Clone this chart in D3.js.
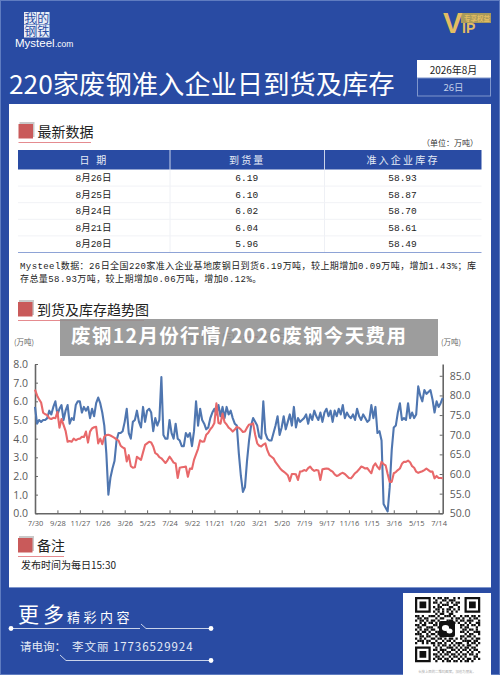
<!DOCTYPE html>
<html>
<head>
<meta charset="utf-8">
<script src="https://cdn.jsdelivr.net/npm/d3@7"></script>
<style>
  html, body { margin: 0; padding: 0; background: #294ba3; }
  svg { display: block; }
  text { font-family: "Noto Sans CJK SC", "Noto Sans", sans-serif; }
</style>
</head>
<body>
<svg id="chart"></svg>
<script>
// table data
const tableHeaders = ["日 期", "到货量", "准入企业库存"];
const tableDates = ["8月26日", "8月25日", "8月24日", "8月21日", "8月20日"];
const tableArrivals = ["6.19", "6.10", "6.02", "6.04", "5.96"];
const tableStocks = ["58.93", "58.87", "58.70", "58.61", "58.49"];

// chart data
const tickLabels = ["7/30", "9/28", "11/27", "1/26", "3/26", "5/25", "7/24", "9/22", "11/21", "1/20",
  "3/21", "5/20", "7/19", "9/17", "11/16", "1/15", "3/16", "5/15", "7/14"];
const leftTicks = [0, 1, 2, 3, 4, 5, 6, 7, 8];
const rightTicks = [50, 55, 60, 65, 70, 75, 80, 85];

const arrivals = [
  5.7, 4.8, 5.0, 4.9, 5.0, 5.0, 5.1, 5.5, 5.3, 5.7, 6.0,
  5.3, 5.6, 5.8, 5.0, 5.5, 5.8, 4.8, 5.1, 5.0, 5.8, 6.0,
  6.0, 5.4, 5.7, 5.5, 5.7, 5.1, 5.6, 5.2, 5.9, 6.2, 5.9,
  5.4, 4.7, 3.2, 1.0, 1.9, 2.4, 2.8, 3.9, 4.3, 4.3, 4.4,
  4.9, 5.6, 4.3, 4.0, 4.9, 5.0, 5.5, 4.9, 4.6, 5.7, 4.9,
  5.5, 5.6, 5.4, 4.4, 5.1, 4.7, 5.0, 7.3, 4.2, 4.0, 4.0,
  5.0, 4.3, 4.0, 4.8, 4.0, 3.9, 3.6, 3.6, 4.3, 4.1, 4.3,
  3.6, 4.4, 6.0, 4.7, 5.6, 5.0, 4.8, 4.5, 4.6, 5.1, 5.4,
  5.6, 5.3, 5.8, 5.2, 5.7, 5.1, 5.7, 5.3, 5.5, 5.1, 4.8,
  4.7, 3.2, 2.0, 1.15, 1.4, 2.8, 3.9, 4.7, 5.1, 4.9, 4.7,
  4.1, 4.0, 6.0, 4.3, 4.0, 3.9, 3.9, 4.3, 4.7, 5.2, 4.2,
  4.6, 5.2, 4.5, 4.9, 5.3, 4.7, 5.7, 4.6, 5.1, 4.9, 5.0,
  5.1, 5.3, 4.8, 5.3, 5.0, 5.5, 5.2, 5.0, 5.4, 4.9, 5.4,
  5.6, 5.2, 5.5, 4.9, 5.5, 5.2, 5.6, 5.3, 5.8, 5.1, 5.4,
  5.2, 5.1, 5.3, 5.0, 5.6, 5.2, 5.0, 5.3, 5.1, 4.9, 5.0,
  5.8, 5.1, 5.7, 4.3, 4.4, 3.9, 0.5, 0.3, 0.1, 1.4, 3.4,
  4.6, 4.7, 5.4, 5.9, 5.0, 5.1, 5.0, 5.9, 5.1, 5.4, 5.1,
  5.3, 6.8, 6.3, 6.0, 6.6, 6.4, 6.5, 6.6, 6.1, 5.4, 6.0,
  5.7, 5.9, 6.19
];

const stocks = [
  81.5, 80, 79, 78.2, 75.6, 75.2, 75, 74.2, 74, 74.3, 74.2,
  75.8, 71.8, 74, 72.5, 71, 68.2, 68.4, 68.2, 69, 68.6, 68.9,
  69, 69.5, 69.4, 70.8, 68, 70.8, 71.6, 71.9, 72, 67.8, 69,
  67.6, 69.5, 69.9, 70, 69.8, 69.5, 69.2, 68.8, 68.5, 67.2, 66.8,
  66.5, 63.2, 64.8, 62, 61.6, 61.7, 64.4, 64, 63.6, 65.5, 67.4,
  67.8, 68.2, 68, 67, 65.3, 65, 64.3, 64, 63.4, 62.8, 63.5,
  64.4, 63.7, 62.9, 62.7, 59, 61.6, 61.7, 61.8, 61.9, 59.3, 61.4,
  61.3, 63.6, 65, 66.4, 68.6, 68.2, 68.3, 70, 70.5, 71.4, 72,
  73, 78, 73, 72.8, 75.4, 73.2, 72.6, 71.8, 71.4, 70.8, 71.3,
  72, 71.8, 71.3, 70.7, 70.8, 71.8, 72.6, 72.6, 72.9, 70, 67.8,
  67.2, 67, 67.5, 67.8, 66, 64.8, 64.4, 64, 63, 62.3, 61.6,
  61, 60.6, 60.2, 59.7, 58.2, 60, 60, 59.9, 58.5, 60.6, 60.7,
  61, 60.8, 61.5, 61.9, 61.2, 60.8, 61, 60.9, 58.5, 61.2, 61.3,
  61.4, 61.3, 60.9, 60.6, 59.9, 59.5, 59.7, 60.1, 60.3, 60, 59.5,
  59, 58.9, 59.5, 60.2, 60.6, 61.2, 61.9, 61.7, 61.4, 61.5, 60.8,
  60.2, 62, 62.7, 61.8, 61.2, 63.1, 62.5, 62.2, 60, 58, 58,
  60.2, 60.5, 61, 61.4, 62.6, 63.1, 63.1, 63.4, 63, 62, 61.6,
  60.6, 60.3, 60.5, 60.7, 61, 61.4, 61, 60.6, 60.6, 58.9, 59.5,
  59, 59, 58.93
];

// inner modules of the footer QR, finder corners get drawn on top
const qrRows = [
  "00000000101101100101000000000",
  "00000000010011011100000000000",
  "00000000110100101011000000000",
  "00000000001011100110000000000",
  "00000000101100011001000000000",
  "00000000011010110101000000000",
  "00000000101010101010000000000",
  "00000000010110011000000000000",
  "11010011101001110100101101101",
  "01101100010110001011010010110",
  "10110101101000111010110111001",
  "00101011010111000101001010011",
  "11011000110100000000110101101",
  "01100111001010000000101100010",
  "10101101100110000000011011010",
  "01011010011000000000110100111",
  "11100101101010000000001011001",
  "00110110010110000000110110100",
  "10101001101101011010101001011",
  "01110110010010110100011110110",
  "10010101101101001011100101101",
  "00000000101011010101010110010",
  "00000000010100111010101101100",
  "00000000110111001101011010110",
  "00000000001010110010100101001",
  "00000000110101101101011011010",
  "00000000011010010110101000110",
  "00000000101101101001010110101",
  "00000000010010110110101101000"
];

const blue = "#294ba3";
const markRed = "#c95a5a";

const svg = d3.select("#chart").attr("width", 500).attr("height", 675);

svg.append("rect").attr("width", 500).attr("height", 675).attr("fill", blue);
svg.append("rect").attr("x", 0.5).attr("y", 0.5).attr("width", 499).attr("height", 674)
  .attr("fill", "none").attr("stroke", "#5f7cc0");
svg.append("rect").attr("x", 9).attr("y", 104).attr("width", 482).attr("height", 483).attr("fill", "#fff");

// logo
const logoChars = [["我", 24, 12], ["的", 37, 12], ["钢", 24, 25], ["铁", 37, 25]];
logoChars.forEach(([c, x, y]) => {
  svg.append("rect").attr("x", x).attr("y", y).attr("width", 12.5).attr("height", 12.5).attr("fill", "#e8edf6");
  svg.append("text").attr("x", x + 6.2).attr("y", y + 10.5).attr("text-anchor", "middle")
    .attr("font-size", 12).attr("fill", "#294ba3").text(c);
});
svg.append("text").attr("x", 15).attr("y", 47).attr("font-size", 11.5).attr("fill", "#fff")
  .style("font-family", "'Liberation Sans'").text("Mysteel");
svg.append("text").attr("x", 55).attr("y", 47).attr("font-size", 8.5).attr("fill", "#fff")
  .style("font-family", "'Liberation Sans'").text(".com");

// vip badge
svg.append("rect").attr("x", 461).attr("y", 13).attr("width", 30).attr("height", 10).attr("fill", "#a89a5c");
svg.append("text").attr("x", 443).attr("y", 33).attr("font-size", 29).attr("font-weight", "bold")
  .attr("fill", "#e3bd62").style("font-family", "'Liberation Sans'").text("V");
svg.append("text").attr("x", 462).attr("y", 33).attr("font-size", 14).attr("font-weight", "bold")
  .attr("fill", "#e3bd62").style("font-family", "'Liberation Sans'").text("IP");
svg.append("text").attr("x", 464).attr("y", 21).attr("font-size", 6.5).attr("font-weight", "bold")
  .attr("fill", "#e3bd62").text("专享权益");

// title and date box
svg.append("text").attr("x", 9).attr("y", 94).attr("font-size", 26.3).attr("fill", "#fff").text("220家废钢准入企业日到货及库存");
svg.append("rect").attr("x", 417).attr("y", 60).attr("width", 74).attr("height", 18).attr("fill", "#fff");
svg.append("rect").attr("x", 417.5).attr("y", 78).attr("width", 73).attr("height", 18).attr("fill", blue).attr("stroke", "#7f96cc");
svg.append("text").attr("x", 453.5).attr("y", 73.5).attr("text-anchor", "middle").attr("font-size", 10).attr("fill", "#222").text("2026年8月");
svg.append("text").attr("x", 453.5).attr("y", 91).attr("text-anchor", "middle").attr("font-size", 9.5).attr("fill", "#c3cfe8").text("26日");

function sectionHead(x, y, label, lineEnd) {
  svg.append("rect").attr("x", x + 1).attr("y", y - 2).attr("width", 15).attr("height", 15).attr("fill", "#c9c9c9");
  svg.append("rect").attr("x", x).attr("y", y).attr("width", 14.5).attr("height", 14.5).attr("fill", markRed);
  svg.append("text").attr("x", x + 19).attr("y", y + 12.5).attr("font-size", 14).attr("fill", "#222").text(label);
  svg.append("line").attr("x1", x).attr("x2", lineEnd).attr("y1", y + 18.5).attr("y2", y + 18.5)
    .attr("stroke", "#e58b8f").attr("stroke-width", 1.2);
}

sectionHead(18.5, 124, "最新数据", 91);
svg.append("text").attr("x", 478).attr("y", 146).attr("text-anchor", "end").attr("font-size", 8).attr("fill", "#333").text("（单位：万吨）");

// table
const colEdges = [18, 170, 324.5, 481.5];
const rowScale = d3.scaleBand().domain(tableDates).range([169.5, 252.5]);
svg.append("rect").attr("x", colEdges[0]).attr("y", 150).attr("width", colEdges[3] - colEdges[0]).attr("height", 19.5).attr("fill", blue);
tableHeaders.forEach((h, i) => {
  svg.append("text").attr("x", (colEdges[i] + colEdges[i + 1]) / 2).attr("y", 164)
    .attr("text-anchor", "middle").attr("font-size", 10).attr("letter-spacing", 2.2).attr("fill", "#e6ebf6").text(h);
});
[colEdges[1], colEdges[2]].forEach((x) => {
  svg.append("line").attr("x1", x).attr("x2", x).attr("y1", 150).attr("y2", 169.5).attr("stroke", "#c9d3ea");
  svg.append("line").attr("x1", x).attr("x2", x).attr("y1", 169.5).attr("y2", 252.5).attr("stroke", "#eef0f5");
});
tableDates.forEach((d, i) => {
  const cy = rowScale(d) + rowScale.bandwidth() / 2 + 3.2;
  [d, tableArrivals[i], tableStocks[i]].forEach((v, j) => {
    svg.append("text").attr("x", (colEdges[j] + colEdges[j + 1]) / 2 - 0.5).attr("y", cy)
      .attr("text-anchor", "middle").attr("font-size", 9.5).attr("fill", "#222")
      .style("font-family", "'Liberation Mono','Noto Sans CJK SC'").text(v);
  });
  if (i < tableDates.length - 1) {
    svg.append("line").attr("x1", colEdges[0]).attr("x2", colEdges[3])
      .attr("y1", rowScale(d) + rowScale.bandwidth()).attr("y2", rowScale(d) + rowScale.bandwidth()).attr("stroke", "#f1f2f6");
  }
});
svg.append("line").attr("x1", colEdges[0]).attr("x2", colEdges[3]).attr("y1", 252.5).attr("y2", 252.5).attr("stroke", "#8ea3d6");

const noteLines = [
  "Mysteel数据：26日全国220家准入企业基地废钢日到货6.19万吨，较上期增加0.09万吨，增加1.43%；库",
  "存总量58.93万吨，较上期增加0.06万吨，增加0.12%。"
];
noteLines.forEach((t, i) => {
  svg.append("text").attr("x", 20).attr("y", 269 + i * 13).attr("font-size", 9).attr("letter-spacing", 0.42).attr("fill", "#222")
    .style("font-family", "'Liberation Mono','Noto Sans CJK SC'").text(t);
});

sectionHead(18, 302, "到货及库存趋势图", 144);

// trend chart
const margin = { left: 35, right: 442.7, top: 364, bottom: 513.3 };
const x = d3.scaleLinear().domain([0, arrivals.length - 1]).range([margin.left, margin.right]);
const yLeft = d3.scaleLinear().domain([0, 8]).range([margin.bottom, margin.top]);
const yRight = d3.scaleLinear().domain([50, 88]).range([margin.bottom, margin.top]);

const chartFont = "'Open Sans','Noto Sans',sans-serif";
const xTickIndex = tickLabels.map((_, i) => i * 11);

function styleAxis(g, size) {
  g.selectAll(".domain").attr("stroke", "#666").attr("stroke-width", 1.6);
  g.selectAll(".tick line").attr("stroke", "#666").attr("stroke-width", 1);
  g.selectAll(".tick text").attr("fill", "#5a5a5a").attr("font-size", size).style("font-family", chartFont);
}

svg.append("g").attr("transform", `translate(${margin.left},0)`)
  .call(d3.axisLeft(yLeft).tickValues(leftTicks).tickFormat(d3.format(".1f")).tickSize(-3).tickSizeOuter(0).tickPadding(7))
  .call(styleAxis, 10.5);

svg.append("g").attr("transform", `translate(${margin.right},0)`)
  .call(d3.axisRight(yRight).tickValues(rightTicks).tickFormat(d3.format(".1f")).tickSize(-3).tickSizeOuter(0).tickPadding(7))
  .call(styleAxis, 10.5);

svg.append("g").attr("transform", `translate(0,${margin.bottom})`)
  .call(d3.axisBottom(x).tickValues(xTickIndex).tickFormat((d, i) => tickLabels[i]).tickSize(-3).tickSizeOuter(0).tickPadding(7))
  .call(styleAxis, 7.5);

svg.append("path").datum(arrivals)
  .attr("fill", "none").attr("stroke", "#4f76b0").attr("stroke-width", 2.1).attr("stroke-linejoin", "round")
  .attr("d", d3.line().x((d, i) => x(i)).y((d) => yLeft(d)));

svg.append("path").datum(stocks)
  .attr("fill", "none").attr("stroke", "#e8686a").attr("stroke-width", 2.1).attr("stroke-linejoin", "round")
  .attr("d", d3.line().x((d, i) => x(i)).y((d) => yRight(d)));

svg.append("text").attr("x", 14).attr("y", 345).attr("font-size", 7.5).attr("fill", "#666").text("(万吨)");
svg.append("text").attr("x", 441).attr("y", 345).attr("font-size", 7.5).attr("fill", "#666").text("(万吨)");

// legend sits mostly under the grey banner
svg.append("text").attr("x", 186).attr("y", 339).attr("font-size", 7.5).attr("fill", "#333").text("到货量");
svg.append("text").attr("x", 222).attr("y", 339).attr("font-size", 7.5).attr("fill", "#333").text("(左)");
svg.append("line").attr("x1", 243).attr("x2", 258).attr("y1", 337).attr("y2", 337).attr("stroke", "#e8686a").attr("stroke-width", 1.8);
svg.append("text").attr("x", 260).attr("y", 339).attr("font-size", 7.5).attr("fill", "#333").text("库存(右)");

// banner over the chart
svg.append("rect").attr("x", 60).attr("y", 319).attr("width", 378).attr("height", 37)
  .attr("fill", "#8f8f8f").attr("fill-opacity", 0.87);
svg.append("text").attr("x", 71).attr("y", 343).attr("font-size", 19.5).attr("font-weight", "bold")
  .attr("letter-spacing", 1.35).attr("fill", "#fff").text("废钢12月份行情/2026废钢今天费用");

sectionHead(18, 538, "备注", 64);
svg.append("text").attr("x", 21).attr("y", 569).attr("font-size", 10).attr("fill", "#222").text("发布时间为每日15:30");

// footer
svg.append("rect").attr("x", 9).attr("y", 587).attr("width", 482).attr("height", 1).attr("fill", "#7f96cc");
svg.append("text").attr("x", 18).attr("y", 622).attr("font-size", 21).attr("letter-spacing", 4).attr("fill", "#fff").text("更多");
svg.append("text").attr("x", 67).attr("y", 622).attr("font-size", 13).attr("letter-spacing", 3.5).attr("fill", "#fff").text("精彩内容");
svg.append("path").attr("fill", "none").attr("stroke", "#c9d3ea")
  .attr("d", "M11,628.5H140M141,624L146,628.5H211");
svg.append("path").attr("fill", "none").attr("stroke", "#c9d3ea")
  .attr("d", "M60,655L66,660.5H211");
[[11, 628.5], [211, 628.5], [211, 660.5]].forEach(([cx, cy]) => {
  svg.append("circle").attr("cx", cx).attr("cy", cy).attr("r", 2.4).attr("fill", "#fff");
});
svg.append("text").attr("x", 20).attr("y", 651).attr("font-size", 11.5).attr("fill", "#e6ebf6").text("请电询：");
svg.append("text").attr("x", 72).attr("y", 651).attr("font-size", 11.5).attr("letter-spacing", 0.95).attr("fill", "#e6ebf6").text("李文丽 17736529924");

// qr block
svg.append("rect").attr("x", 403).attr("y", 593).attr("width", 88).attr("height", 82).attr("fill", "#fff");
const qrSize = 2.25;
const qrX = 415;
const qrY = 597;
qrRows.forEach((row, r) => {
  row.split("").forEach((v, c) => {
    if (v === "1") {
      svg.append("rect").attr("x", qrX + c * qrSize).attr("y", qrY + r * qrSize)
        .attr("width", qrSize).attr("height", qrSize).attr("fill", "#111");
    }
  });
});
[[0, 0], [22, 0], [0, 22]].forEach(([c, r]) => {
  const fx = qrX + c * qrSize;
  const fy = qrY + r * qrSize;
  svg.append("rect").attr("x", fx).attr("y", fy).attr("width", qrSize * 7).attr("height", qrSize * 7).attr("fill", "#111");
  svg.append("rect").attr("x", fx + qrSize).attr("y", fy + qrSize).attr("width", qrSize * 5).attr("height", qrSize * 5).attr("fill", "#fff");
  svg.append("rect").attr("x", fx + qrSize * 2).attr("y", fy + qrSize * 2).attr("width", qrSize * 3).attr("height", qrSize * 3).attr("fill", "#111");
});
svg.append("rect").attr("x", 439).attr("y", 621).attr("width", 16).attr("height", 16).attr("rx", 2).attr("fill", "#111");
svg.append("ellipse").attr("cx", 445.5).attr("cy", 628).attr("rx", 3.6).attr("ry", 3).attr("fill", "#fff");
svg.append("ellipse").attr("cx", 449.5).attr("cy", 631).attr("rx", 3).attr("ry", 2.5).attr("fill", "#fff");
svg.append("text").attr("x", 447).attr("y", 673).attr("text-anchor", "middle").attr("font-size", 3.4).attr("fill", "#aaa").text("长按上面的二维码图案，加他为朋友。");
</script>
</body>
</html>
